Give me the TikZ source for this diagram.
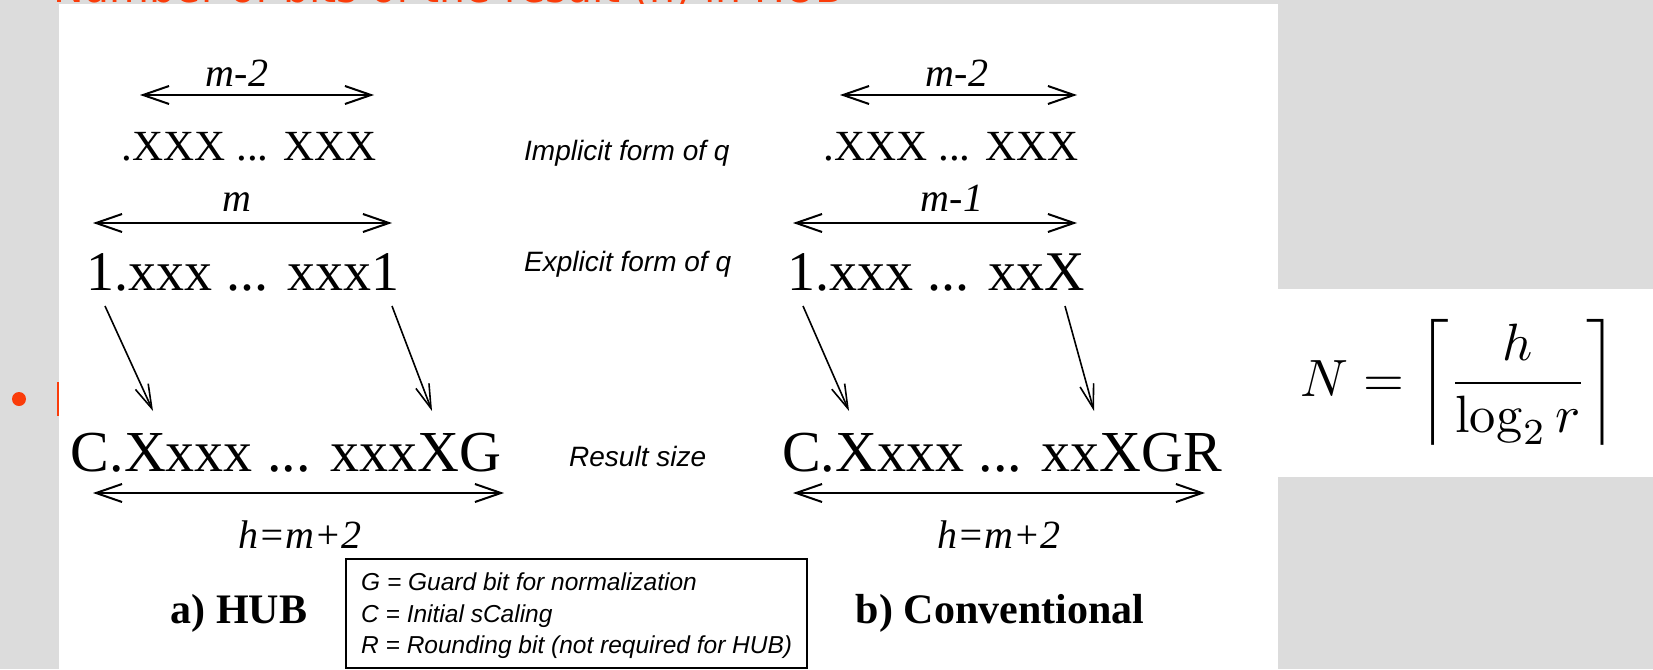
\documentclass[tikz,border=0pt]{standalone}
\usepackage[no-math]{fontspec}
\setmainfont{Liberation Serif}
\newfontfamily\lsans{Liberation Sans}
\newfontfamily\dvsans{DejaVu Sans}
\usetikzlibrary{arrows.meta}
\definecolor{slidegrey}{RGB}{220,220,220}
\definecolor{slidered}{RGB}{250,60,10}
\tikzset{
  bitsA/.style={anchor=base, inner sep=0pt, font=\fontsize{43}{50}\selectfont},
  bitsB/.style={anchor=base, inner sep=0pt, font=\fontsize{56}{64}\selectfont},
  bitsC/.style={anchor=base, inner sep=0pt, font=\fontsize{58}{66}\selectfont},
  dimtxt/.style={anchor=base, inner sep=0pt, font=\fontsize{40}{48}\selectfont\itshape},
  rowlbl/.style={anchor=base west, inner sep=0pt, font=\lsans\itshape\fontsize{28}{34}\selectfont},
  caption/.style={anchor=base, inner sep=0pt, font=\fontsize{42}{50}\selectfont\bfseries},
  legendtxt/.style={anchor=base west, inner sep=0pt, font=\lsans\itshape\fontsize{24.5}{30}\selectfont},
  dimarrow/.style={{Straight Barb[length=26pt,width=18pt]}-{Straight Barb[length=26pt,width=18pt]}, line width=2pt},
  feedarrow/.style={-{Straight Barb[length=24pt,width=14pt]}, line width=1.6pt},
}
\begin{document}
\begin{tikzpicture}[x=1pt,y=-1pt]
\useasboundingbox (0,0) rectangle (1653,669);
% slide background
\fill[slidegrey] (0,0) rectangle (1653,669);
\begin{scope}
  \clip (0,0) rectangle (1653,4);
  \node[anchor=base west, inner sep=0pt, text=slidered, font=\dvsans\fontsize{41}{48}\selectfont] (title) at (53,3) {Number of bits of the result (h) in HUB};
\end{scope}
\fill[slidered] (19,399) circle (7);
\fill[slidered] (57,382) rectangle (60,416);
% white panels
\fill[white] (59,4) rectangle (1278,669);
\fill[white] (1278,289) rectangle (1653,477);

% ---------- a) HUB ----------
\node[dimtxt] (dL1) at (237,86) {m-2};
\coordinate (aL1) at (140,95); \coordinate (bL1) at (374,95);
\draw[dimarrow] (aL1) -- (bL1);
\node[bitsA] (impL) at (249,160) {.XXX ... XXX};
\node[dimtxt] (dL2) at (237,211) {m};
\coordinate (aL2) at (93,223); \coordinate (bL2) at (392,223);
\draw[dimarrow] (aL2) -- (bL2);
\node[bitsB] (expL) at (243,290) {1.xxx ... xxx1};
\node[bitsC] (resL) at (286,471) {C.Xxxx ... xxxXG};
\coordinate (sL1) at (105,306); \coordinate (eL1) at (153,411);
\coordinate (sL2) at (392,306); \coordinate (eL2) at (432,411);
\draw[feedarrow] (sL1) -- (eL1);
\draw[feedarrow] (sL2) -- (eL2);
\coordinate (aL3) at (93,493); \coordinate (bL3) at (504,493);
\draw[dimarrow] (aL3) -- (bL3);
\node[dimtxt] (dL3) at (300,548) {h=m+2};
\node[caption] (capL) at (239,623) {a) HUB};

% ---------- row labels ----------
\node[rowlbl] (lblImp) at (524,160) {Implicit form of q};
\node[rowlbl] (lblExp) at (524,271) {Explicit form of q};
\node[rowlbl] (lblRes) at (569,466) {Result size};

% ---------- b) Conventional ----------
\node[dimtxt] (dR1) at (957,86) {m-2};
\coordinate (aR1) at (840,95); \coordinate (bR1) at (1077,95);
\draw[dimarrow] (aR1) -- (bR1);
\node[bitsA] (impR) at (951,160) {.XXX ... XXX};
\node[dimtxt] (dR2) at (952,211) {m-1};
\coordinate (aR2) at (793,223); \coordinate (bR2) at (1077,223);
\draw[dimarrow] (aR2) -- (bR2);
\node[bitsB] (expR) at (936,290) {1.xxx ... xxX};
\node[bitsC] (resR) at (1002,471) {C.Xxxx ... xxXGR};
\coordinate (sR1) at (803,306); \coordinate (eR1) at (849,411);
\coordinate (sR2) at (1065,306); \coordinate (eR2) at (1094,411);
\draw[feedarrow] (sR1) -- (eR1);
\draw[feedarrow] (sR2) -- (eR2);
\coordinate (aR3) at (793,493); \coordinate (bR3) at (1205,493);
\draw[dimarrow] (aR3) -- (bR3);
\node[dimtxt] (dR3) at (999,548) {h=m+2};
\node[caption] (capR) at (1000,623) {b) Conventional};

% ---------- legend ----------
\draw[line width=1.5pt] (346,559) rectangle (807,668);
\node[legendtxt] (lg1) at (361,590) {G = Guard bit for normalization};
\node[legendtxt] (lg2) at (361,622) {C = Initial sCaling};
\node[legendtxt] (lg3) at (361,653) {R = Rounding bit (not required for HUB)};

% ---------- formula ----------
\node[anchor=base, inner sep=0pt] (formula) at (1459,396)
  {\scalebox{5.25}{$\displaystyle N=\left\lceil\frac{h}{\log_2 r}\right\rceil$}};
\end{tikzpicture}
\end{document}
